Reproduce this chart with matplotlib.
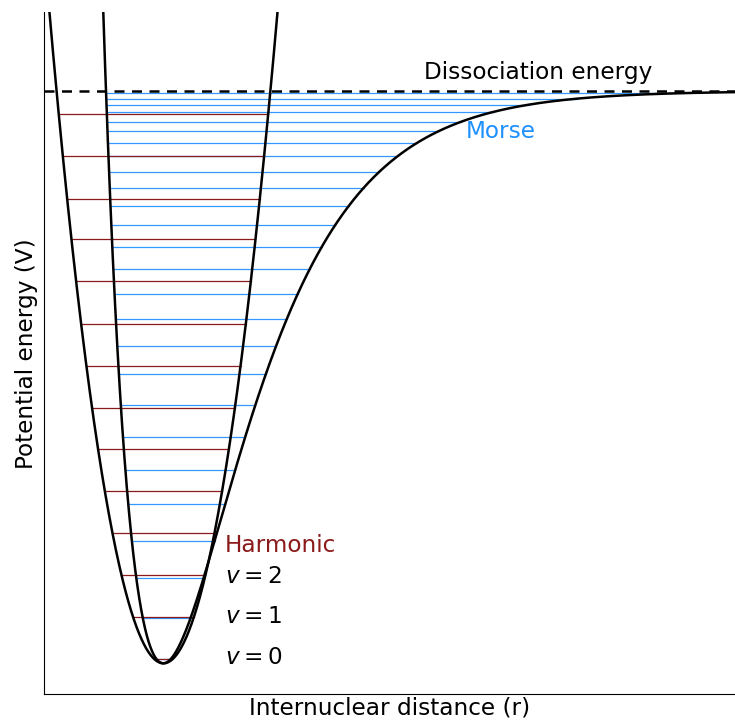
import numpy as np
import matplotlib
matplotlib.use('Agg')
import matplotlib.pyplot as plt

# potential parameters (energy in units of the dissociation energy)
De = 1.0
re_morse = 1.188
a_morse = 1.21
re_harm = 1.19
k_harm = 0.875

# vibrational levels
harm_levels = [0.007, 0.0809, 0.1543, 0.2282, 0.3016, 0.3739, 0.4466, 0.5200,
               0.5934, 0.6680, 0.7409, 0.8118, 0.8859, 0.9593]
morse_levels = [0.007, 0.0797, 0.1496, 0.2142, 0.2783, 0.3378, 0.3959, 0.4513,
                0.5060, 0.5544, 0.6021, 0.6458, 0.6885, 0.7279, 0.7659, 0.7996,
                0.8310, 0.8585, 0.8859, 0.9086, 0.9301, 0.9463, 0.9638, 0.9761,
                0.9866, 0.9959]
v_labels = ['$v = 0$', '$v = 1$', '$v = 2$']


def morse(r):
    return De * (1 - np.exp(-a_morse * (r - re_morse)))**2


def harmonic(r):
    return k_harm * (r - re_harm)**2


fig = plt.figure(figsize=(7.35, 7.22), dpi=100)
ax = fig.add_axes([0.0605, 0.0388, 0.9395, 0.9439])

xmin, xmax = 0.0, 6.905
ymin, ymax = -0.0536, 1.1372
fs = 16.7

# Morse levels
for E in morse_levels:
    r1 = re_morse - np.log(1 + np.sqrt(E / De)) / a_morse
    r2 = re_morse - np.log(1 - np.sqrt(E / De)) / a_morse
    ax.plot([r1, r2], [E, E], color='#3399ff', lw=0.9, zorder=2)

# harmonic levels
for E in harm_levels:
    d = np.sqrt(E / k_harm)
    ax.plot([re_harm - d, re_harm + d], [E, E], color='#8b1a1a', lw=0.9, zorder=3)

r = np.linspace(0.3, xmax, 2000)
ax.plot(r, morse(r), color='k', lw=1.8, zorder=4)
r = np.linspace(xmin, 3.0, 1000)
ax.plot(r, harmonic(r), color='k', lw=1.8, zorder=4)

ax.axhline(De, color='k', ls='--', lw=1.8, dashes=(4, 3), zorder=5)

ax.text(3.795, 1.033, 'Dissociation energy', fontsize=fs, va='center')
ax.text(4.215, 0.930, 'Morse', fontsize=fs, va='center', color='#1e90ff')
ax.text(1.805, 0.205, 'Harmonic', fontsize=fs, va='center', color='#8b1a1a')
for lab, yy in zip(v_labels, [0.011, 0.081, 0.151]):
    ax.text(1.805, yy, lab, fontsize=fs, va='center')

ax.set_xlim(xmin, xmax)
ax.set_ylim(ymin, ymax)
ax.set_xticks([])
ax.set_yticks([])
ax.spines['top'].set_visible(False)
ax.spines['right'].set_visible(False)
ax.set_xlabel('Internuclear distance (r)', fontsize=fs, labelpad=2)
ax.set_ylabel('Potential energy (V)', fontsize=fs, labelpad=5)

fig.savefig('out.png', dpi=100)
